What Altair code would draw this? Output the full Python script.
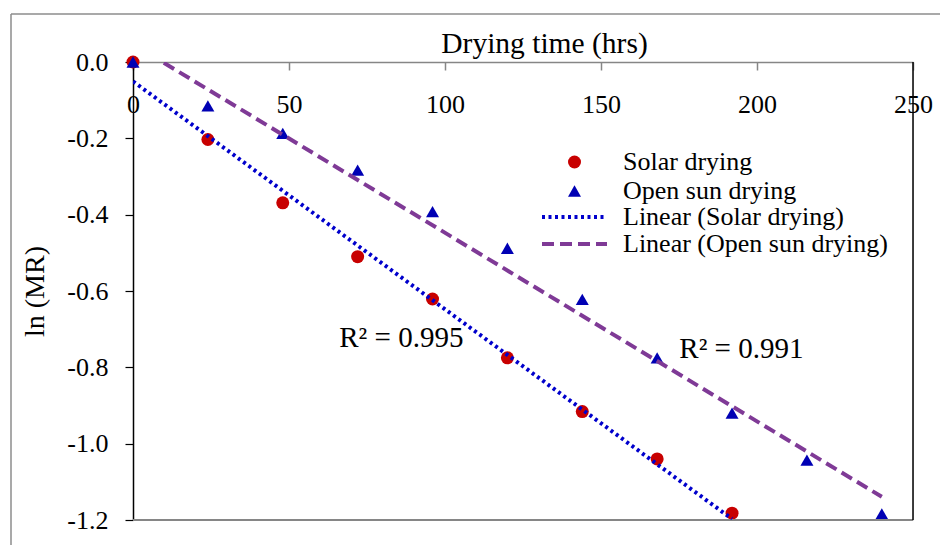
import altair as alt
import pandas as pd

# ---- data ----
hours_solar = [0, 24, 48, 72, 96, 120, 144, 168, 192]
ln_mr_solar = [0.0, -0.203, -0.369, -0.510, -0.621, -0.775, -0.916, -1.040, -1.182]
hours_open = [0, 24, 48, 72, 96, 120, 144, 168, 192, 216, 240]
ln_mr_open = [0.0, -0.115, -0.187, -0.283, -0.392, -0.488, -0.622, -0.775, -0.920, -1.043, -1.184]
series_names = ["Solar drying", "Open sun drying"]
trend_names = ["Linear (Solar drying)", "Linear (Open sun drying)"]
x_ticks = [0, 50, 100, 150, 200, 250]
y_ticks = [-1.2, -1.0, -0.8, -0.6, -0.4, -0.2, 0.0]
r2_labels = ["R² = 0.995", "R² = 0.991"]
r2_hours = [86, 195]
r2_ln = [-0.747, -0.775]

df = pd.DataFrame({
    "hours": hours_solar + hours_open,
    "lnMR": ln_mr_solar + ln_mr_open,
    "series": [series_names[0]] * len(hours_solar) + [series_names[1]] * len(hours_open),
})
df_r2 = pd.DataFrame({"hours": r2_hours, "lnMR": r2_ln, "label": r2_labels})
one = pd.DataFrame({"a": [0]})

FONT = "Liberation Serif"
W, H = 780, 458

xscale = alt.Scale(domain=[0, 250], nice=False, zero=False)
yscale = alt.Scale(domain=[-1.2, 0], nice=False, zero=False)

xaxis = alt.Axis(
    orient="bottom", offset=-H, values=x_ticks, grid=False, labelFlush=False,
    domainColor="#868686", domainWidth=1.5, tickColor="#868686", tickWidth=1.5,
    tickSize=8, labelPadding=21, labelFont=FONT, labelFontSize=26, labelColor="black",
    title="Drying time (hrs)", titleFont=FONT, titleFontSize=29.5, titleFontWeight="normal",
    titleColor="black", titleX=411, titleY=-10, titleAlign="center", titleBaseline="alphabetic",
)
yaxis = alt.Axis(
    orient="left", values=y_ticks, grid=False, labelFlush=False,
    labelExpr="(datum.value < 0 ? '-' : '') + format(abs(datum.value), '.1f')",
    domainColor="black", domainWidth=1.5, tickColor="black", tickWidth=1.2, tickSize=8,
    labelPadding=17, labelFont=FONT, labelFontSize=26, labelColor="black",
    title="ln (MR)", titleFont=FONT, titleFontSize=28, titleFontWeight="normal",
    titleColor="black", titleX=-90, titleY=H / 2, titleAngle=270,
    titleAlign="center", titleBaseline="alphabetic",
)

leg_points = alt.Legend(
    title=None, orient="none", legendX=428.5, legendY=87, padding=0, rowPadding=3,
    labelOffset=35.5, symbolSize=169, symbolStrokeWidth=0, labelFont=FONT,
    labelFontSize=26, labelColor="black", labelLimit=500,
)
leg_lines = alt.Legend(
    title=None, orient="none", legendX=428.5, legendY=142, padding=0, rowPadding=1,
    labelOffset=35.5, symbolSize=169, symbolType="M-5,0H5", symbolStrokeWidth=4,
    labelFont=FONT, labelFontSize=26, labelColor="black", labelLimit=500,
)

X = lambda f: alt.X(f, scale=xscale, axis=xaxis)
Y = lambda f: alt.Y(f, scale=yscale, axis=yaxis)

points = alt.Chart(df).mark_point(filled=True, size=169, opacity=1).encode(
    x=X("hours:Q"),
    y=Y("lnMR:Q"),
    color=alt.Color("series:N", scale=alt.Scale(domain=series_names, range=["#C80000", "#0000B4"]),
                    legend=leg_points),
    shape=alt.Shape("series:N", scale=alt.Scale(domain=series_names, range=["circle", "triangle-up"]),
                    legend=leg_points),
)

lines = alt.Chart(df).transform_regression(
    "hours", "lnMR", groupby=["series"]
).transform_calculate(
    trend="'Linear (' + datum.series + ')'"
).mark_line(clip=True, strokeWidth=4).encode(
    x=X("hours:Q"),
    y=Y("lnMR:Q"),
    color=alt.Color("trend:N", scale=alt.Scale(domain=trend_names, range=["#0000CC", "#7F3A96"]),
                    legend=leg_lines),
    strokeDash=alt.StrokeDash("trend:N", scale=alt.Scale(domain=trend_names, range=[[3, 3.5], [12, 6]]),
                              legend=leg_lines),
)

texts = alt.Chart(df_r2).mark_text(font=FONT, fontSize=29, color="black", align="center",
                                   baseline="alphabetic").encode(
    x=X("hours:Q"),
    y=Y("lnMR:Q"),
    text="label:N",
)

# plot-area border: bottom (gray) and right (black)
bottom_rule = alt.Chart(one).mark_rule(color="#868686", strokeWidth=2).encode(
    y=alt.Y(datum=-1.2, scale=yscale, axis=yaxis))
right_rule = alt.Chart(one).mark_rule(color="black", strokeWidth=1.5).encode(
    x=alt.X(datum=250, scale=xscale, axis=xaxis))

# chart-area frame (left and top edges of the outer box)
frame_left = alt.Chart(one).mark_rule(color="#8C8C8C", strokeWidth=1.5).encode(
    x=alt.value(-122), y=alt.value(-48), y2=alt.value(520))
frame_top = alt.Chart(one).mark_rule(color="#8C8C8C", strokeWidth=1.5).encode(
    x=alt.value(-122), x2=alt.value(840), y=alt.value(-48))

chart = alt.layer(
    points, bottom_rule, right_rule, lines, texts, frame_left, frame_top
).resolve_scale(
    color="independent", shape="independent", strokeDash="independent"
).properties(
    width=W, height=H,
    autosize=alt.AutoSizeParams(type="none"),
    padding={"left": 133, "top": 62, "right": 27, "bottom": 25},
    background="white",
).configure_view(strokeWidth=0).configure(font=FONT)

chart.save("out.html", embed_options={"renderer": "svg", "actions": False})
